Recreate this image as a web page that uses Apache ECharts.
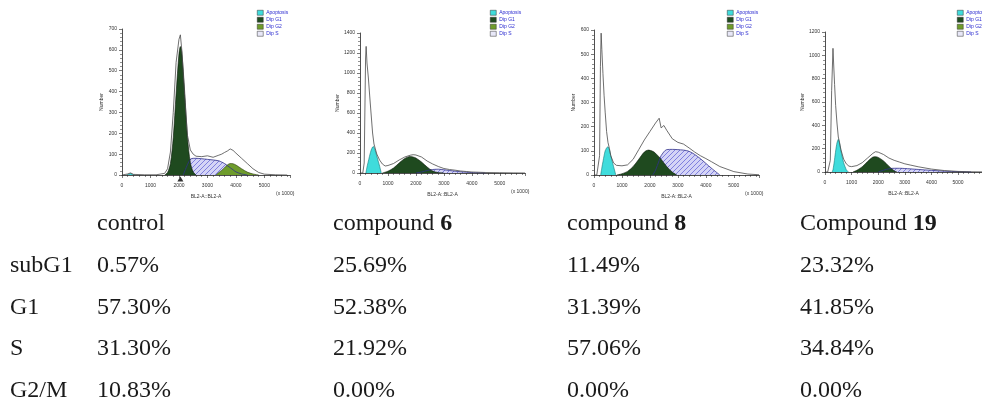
<!DOCTYPE html>
<html>
<head>
<meta charset="utf-8">
<script src="https://cdn.jsdelivr.net/npm/echarts@6/dist/echarts.min.js"></script>
<style>
html, body { margin: 0; padding: 0; background: #fff; }
#main { width: 982px; height: 405px; }
</style>
</head>
<body>
<div id="main"></div>
<script>
// ---- histogram data (DNA content, counts) ----
var ctrlHistX = [0, 200, 300, 400, 800, 1200, 1500, 1600, 1700, 1800, 1900, 2000, 2050, 2100, 2200, 2300, 2400, 2500, 2600, 2800, 3000, 3200, 3400, 3500, 3600, 3700, 3800, 3900, 4000, 4200, 4400, 4600, 4800, 5000, 5400, 5800];
var ctrlHistY = [0, 5, 10, 3, 1, 1, 8, 30, 110, 300, 540, 650, 672, 600, 380, 190, 120, 100, 90, 88, 92, 85, 95, 100, 108, 115, 125, 118, 105, 80, 55, 30, 12, 4, 1, 0];
var ctrlApopX = [150, 250, 300, 350, 450];
var ctrlApopY = [0, 4, 7, 4, 0];
var ctrlG1X = [1500, 1600, 1700, 1800, 1900, 2000, 2050, 2100, 2200, 2300, 2400, 2500, 2600];
var ctrlG1Y = [0, 12, 55, 180, 390, 580, 616, 590, 400, 180, 60, 15, 0];
var ctrlG2X = [3300, 3400, 3500, 3600, 3700, 3800, 3900, 4000, 4200, 4400, 4600, 4800];
var ctrlG2Y = [0, 12, 22, 35, 48, 55, 54, 48, 30, 14, 5, 0];
var ctrlSX = [2150, 2300, 2400, 2500, 2600, 2800, 3000, 3200, 3400, 3500, 3600, 3700, 3800, 3900, 4000, 4200, 4400];
var ctrlSY = [0, 50, 75, 80, 80, 78, 75, 72, 68, 62, 55, 45, 35, 25, 15, 5, 0];

var c6HistX = [0, 100, 150, 200, 220, 250, 300, 350, 400, 450, 500, 550, 600, 700, 800, 900, 1000, 1200, 1400, 1600, 1800, 1900, 2000, 2200, 2400, 2600, 2800, 3000, 3200, 3400, 3600, 3800, 4000, 4500, 5000, 5500, 5900];
var c6HistY = [0, 0, 100, 1150, 1266, 1100, 950, 760, 580, 400, 290, 240, 190, 130, 90, 70, 75, 95, 130, 160, 178, 183, 180, 160, 120, 90, 65, 45, 35, 28, 20, 15, 10, 5, 3, 1, 0];
var c6ApopX = [210, 250, 300, 350, 400, 450, 480, 550, 600, 700, 760];
var c6ApopY = [0, 60, 120, 180, 230, 260, 266, 220, 170, 70, 0];
var c6G1X = [800, 900, 1000, 1200, 1400, 1600, 1800, 1900, 2000, 2200, 2400, 2600, 2800, 3000];
var c6G1Y = [0, 8, 18, 50, 100, 145, 166, 160, 150, 110, 60, 20, 4, 0];
var c6SX = [2000, 2200, 2400, 2600, 2800, 3000, 3200, 3400, 3600, 3800, 4000, 4500];
var c6SY = [0, 10, 25, 35, 38, 32, 25, 18, 12, 8, 4, 0];

var c8HistX = [0, 100, 200, 230, 255, 280, 320, 360, 400, 450, 500, 550, 600, 700, 800, 1000, 1200, 1400, 1600, 1800, 2000, 2200, 2330, 2400, 2500, 2600, 2800, 3000, 3200, 3400, 3600, 3800, 4000, 4200, 4500, 5000, 5500, 5900];
var c8HistY = [0, 0, 80, 450, 587, 520, 420, 330, 260, 180, 135, 110, 80, 50, 40, 38, 42, 65, 105, 145, 180, 215, 235, 195, 205, 185, 150, 135, 128, 112, 95, 80, 68, 55, 35, 14, 4, 1];
var c8ApopX = [240, 280, 320, 360, 400, 450, 500, 550, 600, 700, 780];
var c8ApopY = [0, 30, 55, 80, 100, 112, 117, 105, 80, 35, 0];
var c8G1X = [820, 1000, 1200, 1400, 1600, 1800, 1950, 2100, 2200, 2400, 2600, 2800, 2960];
var c8G1Y = [0, 5, 15, 35, 65, 95, 103, 98, 90, 65, 35, 12, 0];
var c8SX = [2100, 2200, 2330, 2400, 2600, 2800, 3000, 3200, 3400, 3600, 3800, 4000, 4200, 4500];
var c8SY = [0, 20, 60, 80, 105, 106, 105, 103, 98, 85, 68, 48, 28, 0];

var c19HistX = [0, 100, 200, 250, 300, 330, 360, 400, 450, 500, 550, 600, 700, 800, 900, 1000, 1200, 1400, 1600, 1800, 1900, 2000, 2200, 2400, 2600, 2800, 3000, 3200, 3500, 4000, 4500, 5000, 5500, 5900];
var c19HistY = [0, 0, 100, 700, 1060, 900, 750, 570, 420, 300, 250, 190, 110, 70, 50, 46, 55, 80, 120, 160, 174, 170, 150, 120, 100, 85, 70, 60, 45, 25, 12, 5, 2, 1];
var c19ApopX = [270, 300, 330, 360, 400, 450, 500, 550, 600, 700, 800, 880];
var c19ApopY = [0, 20, 60, 110, 180, 250, 280, 240, 180, 80, 20, 0];
var c19G1X = [1050, 1200, 1400, 1600, 1800, 1900, 2000, 2200, 2400, 2600, 2700];
var c19G1Y = [0, 15, 45, 90, 128, 131, 125, 95, 50, 10, 0];
var c19SX = [2000, 2200, 2400, 2600, 2800, 3000, 3200, 3500, 4000, 4500, 5000, 5500];
var c19SY = [0, 15, 28, 32, 32, 30, 27, 22, 14, 7, 3, 0];

// ---- table ----
var colNames = ['control', 'compound ', 'compound ', 'Compound '];
var colBold = ['', '6', '8', '19'];
var phases = ['subG1', 'G1', 'S', 'G2/M'];
var ctrlPct = ['0.57%', '57.30%', '31.30%', '10.83%'];
var c6Pct = ['25.69%', '52.38%', '21.92%', '0.00%'];
var c8Pct = ['11.49%', '31.39%', '57.06%', '0.00%'];
var c19Pct = ['23.32%', '41.85%', '34.84%', '0.00%'];

function pairs(xs, ys) {
    return xs.map(function (x, i) { return [x, ys[i]]; });
}

// hatch pattern for Dip S
var hatch = document.createElement('canvas');
hatch.width = 5; hatch.height = 5;
var hc = hatch.getContext('2d');
hc.fillStyle = '#d4d4f6';
hc.fillRect(0, 0, 5, 5);
hc.strokeStyle = '#6a6ad8';
hc.lineWidth = 0.8;
hc.beginPath();
hc.moveTo(0, 5); hc.lineTo(5, 0);
hc.moveTo(-1, 1); hc.lineTo(1, -1);
hc.moveTo(4, 6); hc.lineTo(6, 4);
hc.stroke();

var colApop = '#3fdcdc', colG1 = '#1f4a1f', colG2 = '#6e9c2c';

var panels = [
    {left: 122, top: 29, width: 168, height: 146, ymax: 700, yint: 100, leg: 257,
     hist: [ctrlHistX, ctrlHistY], apop: [ctrlApopX, ctrlApopY], g1: [ctrlG1X, ctrlG1Y], g2: [ctrlG2X, ctrlG2Y], s: [ctrlSX, ctrlSY], mark: 2050},
    {left: 360, top: 33, width: 165, height: 140, ymax: 1400, yint: 200, leg: 490,
     hist: [c6HistX, c6HistY], apop: [c6ApopX, c6ApopY], g1: [c6G1X, c6G1Y], s: [c6SX, c6SY]},
    {left: 594, top: 30, width: 165, height: 145, ymax: 600, yint: 100, leg: 727,
     hist: [c8HistX, c8HistY], apop: [c8ApopX, c8ApopY], g1: [c8G1X, c8G1Y], s: [c8SX, c8SY]},
    {left: 825, top: 32, width: 196, height: 140, ymax: 1200, yint: 200, leg: 957,
     hist: [c19HistX, c19HistY], apop: [c19ApopX, c19ApopY], g1: [c19G1X, c19G1Y], s: [c19SX, c19SY]}
];

var axisTxt = {fontSize: 5, color: '#333', fontFamily: 'Arial'};
var plain = function (v) { return String(v); };
var grids = [], xAxes = [], yAxes = [], series = [], legends = [], graphics = [];

panels.forEach(function (p, i) {
    grids.push({left: p.left, top: p.top, width: p.width, height: p.height});
    xAxes.push({
        type: 'value', gridIndex: i, min: 0, max: 5900, interval: 1000,
        name: 'BL2-A::BL2-A', nameLocation: 'middle', nameGap: 19, nameTextStyle: axisTxt,
        axisLine: {lineStyle: {color: '#222', width: 0.8}},
        axisTick: {length: 3, lineStyle: {color: '#222', width: 0.6}},
        minorTick: {show: true, splitNumber: 5, length: 2, lineStyle: {color: '#222', width: 0.5}},
        axisLabel: Object.assign({margin: 8, showMaxLabel: false, formatter: plain}, axisTxt),
        splitLine: {show: false}
    });
    yAxes.push({
        type: 'value', gridIndex: i, min: 0, max: p.ymax, interval: p.yint,
        name: 'Number', nameLocation: 'middle', nameGap: 18, nameRotate: 90, nameTextStyle: axisTxt,
        axisLine: {show: true, lineStyle: {color: '#222', width: 0.8}},
        axisTick: {show: true, length: 3, lineStyle: {color: '#222', width: 0.6}},
        minorTick: {show: true, splitNumber: 5, length: 2, lineStyle: {color: '#222', width: 0.5}},
        axisLabel: Object.assign({margin: 5, formatter: plain}, axisTxt),
        splitLine: {show: false}
    });
    var base = {type: 'line', xAxisIndex: i, yAxisIndex: i, showSymbol: false, symbol: 'none', silent: true};
    series.push(Object.assign({}, base, {
        name: 'Dip S', data: pairs(p.s[0], p.s[1]), smooth: 0.3,
        lineStyle: {color: '#30308a', width: 0.8}, areaStyle: {color: {image: hatch, repeat: 'repeat'}, opacity: 1}
    }));
    if (p.g2) {
        series.push(Object.assign({}, base, {
            name: 'Dip G2', data: pairs(p.g2[0], p.g2[1]), smooth: 0.3,
            lineStyle: {color: '#2a3a10', width: 0.6}, areaStyle: {color: colG2, opacity: 1}
        }));
    }
    series.push(Object.assign({}, base, {
        name: 'Dip G1', data: pairs(p.g1[0], p.g1[1]), smooth: 0.3,
        lineStyle: {color: '#0c1a0c', width: 0.6}, areaStyle: {color: colG1, opacity: 1}
    }));
    series.push(Object.assign({}, base, {
        name: 'Apoptosis', data: pairs(p.apop[0], p.apop[1]), smooth: 0.2,
        lineStyle: {color: '#127878', width: 0.6}, areaStyle: {color: colApop, opacity: 1}
    }));
    series.push(Object.assign({}, base, {
        name: 'histogram', data: pairs(p.hist[0], p.hist[1]), smooth: false,
        lineStyle: {color: '#4a4a4a', width: 0.8}
    }));
    if (p.mark) {
        series.push({
            type: 'scatter', xAxisIndex: i, yAxisIndex: i, silent: true,
            data: [[p.mark, 0]], symbol: 'triangle', symbolSize: [6, 5], symbolOffset: [0, 4],
            itemStyle: {color: '#000'}
        });
    }
    legends.push({
        left: p.leg, top: 10, orient: 'vertical', padding: 0, itemGap: 1.5,
        itemWidth: 6, itemHeight: 5, icon: 'rect', selectedMode: false,
        textStyle: {fontSize: 5, color: '#2a2ad0', padding: [0, 0, 0, -2]},
        data: [
            {name: 'Apoptosis', itemStyle: {color: colApop, borderColor: '#333', borderWidth: 0.5}},
            {name: 'Dip G1', itemStyle: {color: colG1, borderColor: '#333', borderWidth: 0.5}},
            {name: 'Dip G2', itemStyle: {color: colG2, borderColor: '#333', borderWidth: 0.5}},
            {name: 'Dip S', itemStyle: {color: '#e8e8f8', borderColor: '#333', borderWidth: 0.5}}
        ]
    });
    graphics.push({
        type: 'text', left: p.left + p.width - 14, top: p.top + p.height + 16,
        style: {text: '(x 1000)', fontSize: 5, fill: '#333', fontFamily: 'Arial'}
    });
});

// table text
var serif = '"Liberation Serif", "Times New Roman", serif';
var colX = [97, 333, 567, 800];
var rowY = [224, 266, 308, 349, 391];
var pctCols = [ctrlPct, c6Pct, c8Pct, c19Pct];
colNames.forEach(function (n, c) {
    graphics.push({
        type: 'text', x: colX[c], y: rowY[0],
        style: {
            text: n + (colBold[c] ? '{b|' + colBold[c] + '}' : ''),
            font: '24px ' + serif, fill: '#1a1a1a', verticalAlign: 'middle',
            rich: {b: {fontWeight: 'bold', fontSize: 24, fontFamily: serif, fill: '#1a1a1a'}}
        }
    });
});
phases.forEach(function (ph, r) {
    graphics.push({
        type: 'text', x: 10, y: rowY[r + 1],
        style: {text: ph, font: '24px ' + serif, fill: '#1a1a1a', verticalAlign: 'middle'}
    });
    pctCols.forEach(function (col, c) {
        graphics.push({
            type: 'text', x: colX[c], y: rowY[r + 1],
            style: {text: col[r], font: '24px ' + serif, fill: '#1a1a1a', verticalAlign: 'middle'}
        });
    });
});

var chart = echarts.init(document.getElementById('main'));
chart.setOption({
    backgroundColor: '#fff',
    animation: false,
    grid: grids,
    xAxis: xAxes,
    yAxis: yAxes,
    legend: legends,
    series: series,
    graphic: graphics
});
</script>
</body>
</html>
